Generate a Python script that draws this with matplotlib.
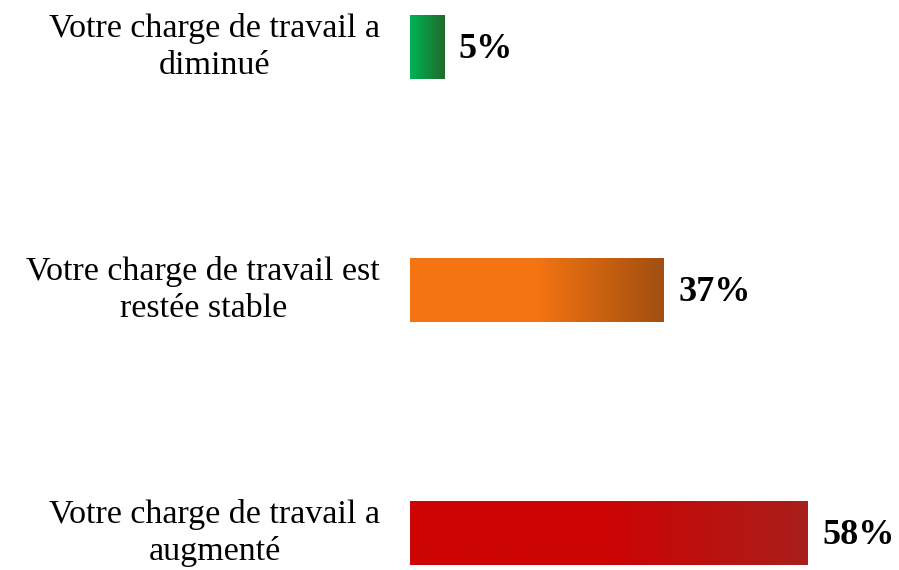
import matplotlib.pyplot as plt
import numpy as np
from matplotlib.colors import LinearSegmentedColormap

# data
categories = ["Votre charge de travail a\ndiminué",
              "Votre charge de travail est\nrestée stable",
              "Votre charge de travail a\naugmenté"]
values = [5, 37, 58]

# gradient stops per bar (left -> right)
grads = [
    [(0.0, "#00B356"), (1.0, "#1E6A2A")],
    [(0.0, "#F47412"), (0.5, "#F47412"), (1.0, "#A14F10")],
    [(0.0, "#CC0404"), (0.5, "#CC0404"), (1.0, "#A81F1B")],
]

W, H = 899, 570
fig = plt.figure(figsize=(W / 100, H / 100), dpi=100)
ax = fig.add_axes([410 / W, 0, (W - 410) / W, 1])

px_per_unit = 6.86
step = 243.0
y0 = 47.0
bar_h = 64 / step
fonts = ['Liberation Serif', 'DejaVu Serif']

for i, (cat, v) in enumerate(zip(categories, values)):
    cmap = LinearSegmentedColormap.from_list("g%d" % i, grads[i])
    grad = np.linspace(0, 1, 256).reshape(1, -1)
    ax.imshow(grad, cmap=cmap, aspect='auto',
              extent=[0, v, i + bar_h / 2, i - bar_h / 2], zorder=2)
    ax.text(v + 2.1, i + 0.012, "%d%%" % v, ha='left', va='center',
            fontsize=26, fontweight='bold', color='black', family=fonts)
    ax.text(-30 / px_per_unit, i, cat, ha='right', va='center',
            multialignment='center', fontsize=24.5, color='black',
            linespacing=1.28, family=fonts)

ax.set_xlim(0, (W - 410) / px_per_unit)
ax.set_ylim((H - y0) / step, (0 - y0) / step)
ax.axis('off')

fig.savefig("out.png", dpi=100)
